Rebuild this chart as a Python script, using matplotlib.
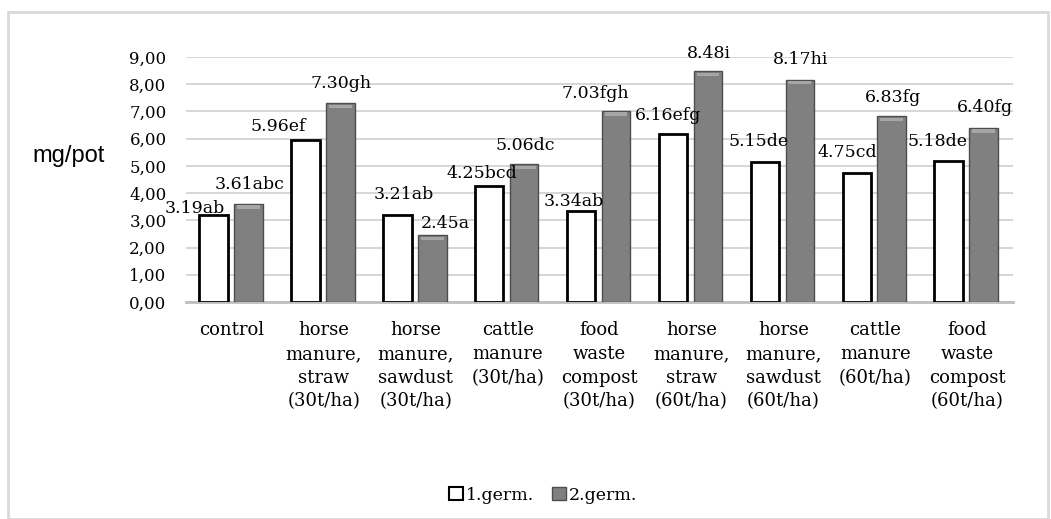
import matplotlib
matplotlib.use("Agg")
import matplotlib.pyplot as plt
from matplotlib.patches import Rectangle, Patch
import numpy as np

categories = ["control", "horse\nmanure,\nstraw\n(30t/ha)", "horse\nmanure,\nsawdust\n(30t/ha)",
              "cattle\nmanure\n(30t/ha)", "food\nwaste\ncompost\n(30t/ha)", "horse\nmanure,\nstraw\n(60t/ha)",
              "horse\nmanure,\nsawdust\n(60t/ha)", "cattle\nmanure\n(60t/ha)", "food\nwaste\ncompost\n(60t/ha)"]
germ1 = [3.19, 5.96, 3.21, 4.25, 3.34, 6.16, 5.15, 4.75, 5.18]
germ2 = [3.61, 7.30, 2.45, 5.06, 7.03, 8.48, 8.17, 6.83, 6.40]
letters1 = ["ab", "ef", "ab", "bcd", "ab", "efg", "de", "cd", "de"]
letters2 = ["abc", "gh", "a", "dc", "fgh", "i", "hi", "fg", "fg"]
yticks = [0, 1, 2, 3, 4, 5, 6, 7, 8, 9]
ytick_labels = ["0,00", "1,00", "2,00", "3,00", "4,00", "5,00", "6,00", "7,00", "8,00", "9,00"]
series_names = ["1.germ.", "2.germ."]

# label offsets in pixels (dx, dy) relative to bar top-center
off1 = [(-19, 7), (-27, 13), (6, 20), (-7, 13), (-7, 10), (-5, 19), (-6, 20), (-9, 20), (-11, 19)]
off2 = [(1, 19), (1, 20), (13, 12), (1, 19), (-21, 17), (1, 18), (1, 20), (1, 19), (1, 20)]

W, H = 1051, 519
fig = plt.figure(figsize=(W / 100, H / 100), dpi=100)
fig.patches.append(Rectangle((8 / W, 0), 1040 / W, 1 - 12 / H, transform=fig.transFigure,
                             fill=False, edgecolor="#d9d9d9", linewidth=2))
ax = fig.add_axes([186 / W, 1 - 302 / H, 827 / W, 245 / H])

x = np.arange(len(categories))
bw = 0.31
ax.bar(x - 0.2, germ1, bw, color="white", edgecolor="black", linewidth=2, zorder=3)
ax.bar(x + 0.18, germ2, bw, color="#808080", edgecolor="#4d4d4d", linewidth=1, zorder=3)
# bevel highlight on grey bars
ax.bar(x + 0.18, [0.12] * len(germ2), bw * 0.8, bottom=np.array(germ2) - 0.18,
       color="#a6a6a6", edgecolor="none", zorder=4)

serif = "DejaVu Serif"
for i in range(len(categories)):
    ax.annotate(f"{germ1[i]:.2f}{letters1[i]}", (x[i] - 0.2, germ1[i]), xytext=off1[i],
                textcoords="offset pixels", ha="center", va="center", fontsize=12.5,
                family=serif, zorder=5)
    ax.annotate(f"{germ2[i]:.2f}{letters2[i]}", (x[i] + 0.18, germ2[i]), xytext=off2[i],
                textcoords="offset pixels", ha="center", va="center", fontsize=12.5,
                family=serif, zorder=5)

ax.set_xlim(-0.5, len(categories) - 0.5)
ax.set_ylim(0, 9)
ax.set_yticks(yticks)
ax.set_yticklabels(ytick_labels, family=serif, fontsize=12)
ax.set_xticks(x)
ax.set_xticklabels(categories, family=serif, fontsize=13, linespacing=1.4)
ax.tick_params(axis="y", length=0, pad=14)
ax.tick_params(axis="x", length=0, pad=14)
ax.grid(axis="y", color="#d0d0d0", linewidth=1.2, zorder=0)
for s in ["top", "right", "left"]:
    ax.spines[s].set_visible(False)
ax.spines["bottom"].set_color("#bfbfbf")
ax.spines["bottom"].set_linewidth(2)

fig.text(69 / W, 1 - 156 / H, "mg/pot", ha="center", va="center", fontsize=17,
         family="Liberation Sans")

handles = [Patch(facecolor="white", edgecolor="black", linewidth=1.5),
           Patch(facecolor="#808080", edgecolor="#4d4d4d")]
fig.legend(handles, series_names, loc="center", bbox_to_anchor=(543 / W, 1 - 495 / H),
           ncol=2, frameon=False, prop={"family": serif, "size": 12.5},
           handlelength=0.8, handleheight=0.8, handletextpad=0.2, columnspacing=1.0)

fig.savefig("out.png", dpi=100)
